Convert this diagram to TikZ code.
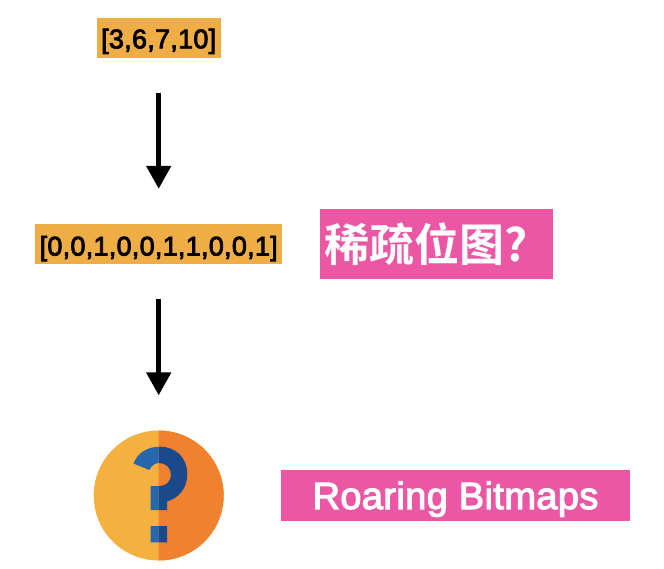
\documentclass[tikz,border=0pt]{standalone}
\usepackage{fontspec}
\setmainfont{Liberation Sans}
\newfontfamily\cjkfont{Noto Sans CJK SC}[BoldFont=* Bold]
\newfontfamily\heavyfont{Liberation Sans}[FakeBold=3,LetterSpace=1]
\usepackage{xcolor}
\definecolor{boxorange}{HTML}{EFAD45}
\definecolor{boxpink}{HTML}{EB57A5}
\definecolor{iconleft}{HTML}{F5B13F}
\definecolor{iconright}{HTML}{F0812F}
\definecolor{markleft}{HTML}{2767AE}
\definecolor{markright}{HTML}{1A4A8C}
\usetikzlibrary{arrows.meta}
\tikzset{
    listbox/.style={fill=boxorange, inner sep=0pt, font=\heavyfont\fontsize{27}{27}\selectfont},
    tagbox/.style={fill=boxpink, inner sep=0pt, text=white},
    flow/.style={line width=5pt, -{Triangle[width=24pt,length=23pt]}, shorten <=35pt, shorten >=35pt},
}
\begin{document}
\begin{tikzpicture}[x=1pt,y=-1pt]
    \useasboundingbox (0,0) rectangle (664,568);

    \node[listbox, minimum width=124pt, minimum height=40pt] (input) at (158.7,38) {\raisebox{-10.3pt}[0pt][0pt]{[3,6,7,10]}};
    \node[listbox, minimum width=247pt, minimum height=40pt] (sparse) at (158.7,244) {\raisebox{-11.5pt}[0pt][0pt]{[0,0,1,0,0,1,1,0,0,1]}};
    \node[tagbox, minimum width=233pt, minimum height=70pt] (sparsetag) at (436.5,244)
        {\hspace*{-21pt}\cjkfont\fontsize{45}{45}\selectfont\bfseries\raisebox{-17pt}[0pt][0pt]{稀疏位图?}};
    \node[tagbox, minimum width=349pt, minimum height=51pt, font=\heavyfont\fontsize{38}{38}\selectfont] (roaring) at (455.5,495.5) {\raisebox{-13.5pt}[0pt][0pt]{Roaring Bitmaps}};

    % Icon
    \node[circle, minimum size=130pt, inner sep=0pt, fill=iconleft] (icon) at (158.7,495.5) {};
    \begin{scope}
        \clip (158.7,425) rectangle (230,566);
        \fill[iconright] (icon.center) circle (65);
    \end{scope}
    \def\markpath{
        (133.5,463.5) .. controls (138,452) and (148,446.7) .. (160,446.7)
        .. controls (176,446.7) and (187.3,458) .. (187.3,474)
        .. controls (187.3,488) and (179,498) .. (167,501.5)
        -- (167,510) -- (150.7,510) -- (150.7,486) -- (160,486)
        .. controls (166,486) and (171,481) .. (171,475)
        .. controls (171,468) and (166,463) .. (159,463)
        .. controls (155,463) and (151,466) .. (149.3,470) -- cycle
        (150.7,526) rectangle (167,542.3)}
    \begin{scope}
        \clip (90,425) rectangle (158.7,566);
        \fill[markleft] \markpath;
    \end{scope}
    \begin{scope}
        \clip (158.7,425) rectangle (230,566);
        \fill[markright] \markpath;
    \end{scope}

    \draw[flow] (input.south) -- (sparse.north);
    \draw[flow] (sparse.south) -- (icon.north);
\end{tikzpicture}
\end{document}
